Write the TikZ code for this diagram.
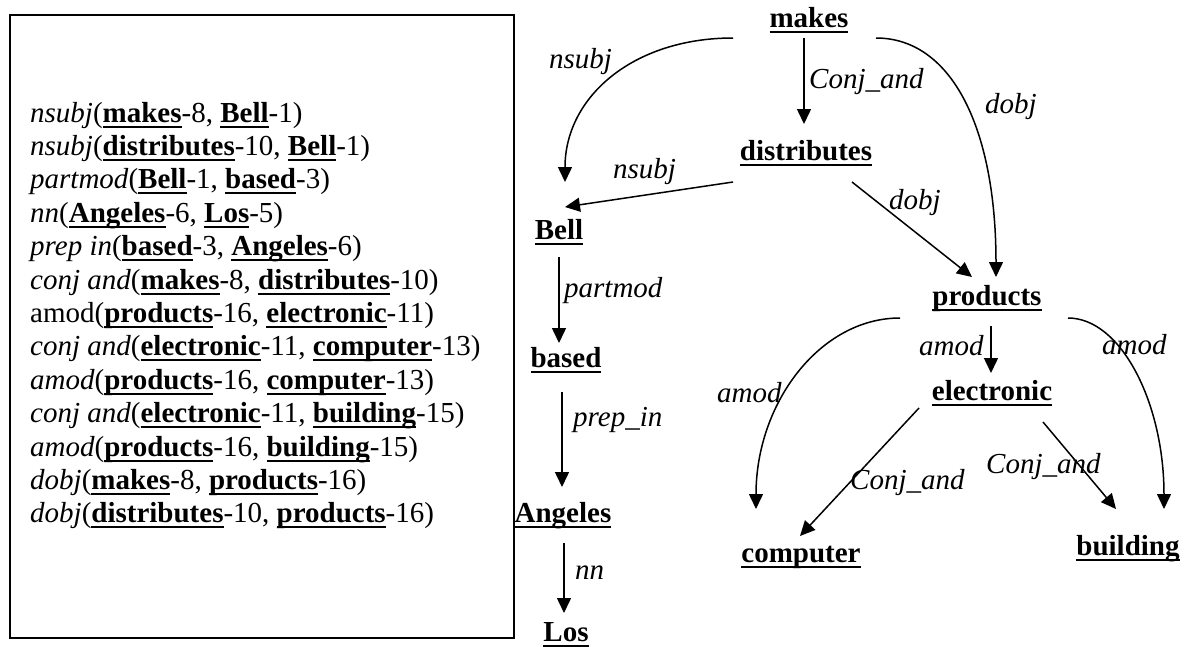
\documentclass[tikz,border=0pt]{standalone}
\usepackage{fontspec}
\setmainfont{Liberation Serif}
\usetikzlibrary{arrows.meta,calc}
\newcommand{\wu}[1]{\setbox0\hbox{\bfseries #1}\rlap{\rule[-5.5pt]{\wd0}{2pt}}\box0}
\begin{document}
\begin{tikzpicture}[x=1pt,y=-1pt,
  word/.style={font=\fontsize{29}{33.4}\selectfont, inner sep=0pt, anchor=base},
  lab/.style={font=\fontsize{29}{33.4}\selectfont\itshape, inner sep=0pt, anchor=base west},
  arr/.style={line width=1.5pt, -{Triangle[length=15pt,width=14pt]}},
  frame/.style={draw, line width=1.6pt, inner sep=0pt, anchor=north west}]
\useasboundingbox (0,0) rectangle (1187,646);
% dependency list
\node[frame, minimum width=504pt, minimum height=623pt] (box) at (9,14) {};
\node[anchor=base west, inner sep=0pt, font=\fontsize{29}{33.4}\selectfont] (deps) at (30,122) {\vtop{%
\hbox{\textit{nsubj}(\wu{makes}-8, \wu{Bell}-1)}
\hbox{\textit{nsubj}(\wu{distributes}-10, \wu{Bell}-1)}
\hbox{\textit{partmod}(\wu{Bell}-1, \wu{based}-3)}
\hbox{\textit{nn}(\wu{Angeles}-6, \wu{Los}-5)}
\hbox{\textit{prep in}(\wu{based}-3, \wu{Angeles}-6)}
\hbox{\textit{conj and}(\wu{makes}-8, \wu{distributes}-10)}
\hbox{amod(\wu{products}-16, \wu{electronic}-11)}
\hbox{\textit{conj and}(\wu{electronic}-11, \wu{computer}-13)}
\hbox{\textit{amod}(\wu{products}-16, \wu{computer}-13)}
\hbox{\textit{conj and}(\wu{electronic}-11, \wu{building}-15)}
\hbox{\textit{amod}(\wu{products}-16, \wu{building}-15)}
\hbox{\textit{dobj}(\wu{makes}-8, \wu{products}-16)}
\hbox{\textit{dobj}(\wu{distributes}-10, \wu{products}-16)}}};
% words
\node[word] (makes) at (809,27) {\wu{makes}};
\node[word] (distributes) at (806,160) {\wu{distributes}};
\node[word] (bell) at (559,239) {\wu{Bell}};
\node[word] (based) at (566,367) {\wu{based}};
\node[word] (angeles) at (563,522) {\wu{Angeles}};
\node[word] (los) at (566,641) {\wu{Los}};
\node[word] (products) at (987,305) {\wu{products}};
\node[word] (electronic) at (992,400) {\wu{electronic}};
\node[word] (computer) at (801,562) {\wu{computer}};
\node[word] (building) at (1128,555) {\wu{building}};
% connectors
\draw[arr] ($(makes.base)+(-76,11)$) .. controls +(-100,0) and +(0,-85) .. ($(bell.base)+(6,-57)$);
\draw[arr] ($(makes.base)+(-5,11)$) -- ($(distributes.base)+(-2,-36)$);
\draw[arr] ($(makes.base)+(67,11)$) .. controls +(75,0) and +(0,-150) .. ($(products.base)+(9,-28)$);
\draw[arr] ($(distributes.base)+(-73,22)$) -- ($(bell.base)+(6,-32)$);
\draw[arr] ($(distributes.base)+(46,22)$) -- ($(products.base)+(-15,-28)$);
\draw[arr] ($(bell.base)+(0,18)$) -- ($(based.base)+(-7,-24)$);
\draw[arr] ($(based.base)+(-4,25)$) -- ($(angeles.base)+(-1,-35)$);
\draw[arr] ($(angeles.base)+(1,21)$) -- ($(los.base)+(-2,-28)$);
\draw[arr] ($(products.base)+(4,21)$) -- ($(electronic.base)+(-1,-27)$);
\draw[arr] ($(products.base)+(-87,13)$) .. controls +(-80,0) and +(0,-106) .. ($(computer.base)+(-45,-53)$);
\draw[arr] ($(products.base)+(81,13)$) .. controls +(53,0) and +(0,-106) .. ($(building.base)+(36,-46)$);
\draw[arr] ($(electronic.base)+(-73,8)$) -- ($(computer.base)+(-1,-26)$);
\draw[arr] ($(electronic.base)+(51,22)$) -- ($(building.base)+(-12,-46)$);
% labels
\node[lab] (l1) at (549,68) {nsubj};
\node[lab] (l2) at (809,88) {Conj\_and};
\node[lab] (l3) at (985,113) {dobj};
\node[lab] (l4) at (613,178) {nsubj};
\node[lab] (l5) at (889,209) {dobj};
\node[lab] (l6) at (564,297) {partmod};
\node[lab] (l7) at (573,426) {prep\_in};
\node[lab] (l8) at (575,579) {nn};
\node[lab] (l9) at (919,355) {amod};
\node[lab] (l10) at (717,402) {amod};
\node[lab] (l11) at (1102,354) {amod};
\node[lab] (l12) at (850,489) {Conj\_and};
\node[lab] (l13) at (986,473) {Conj\_and};
\end{tikzpicture}
\end{document}
